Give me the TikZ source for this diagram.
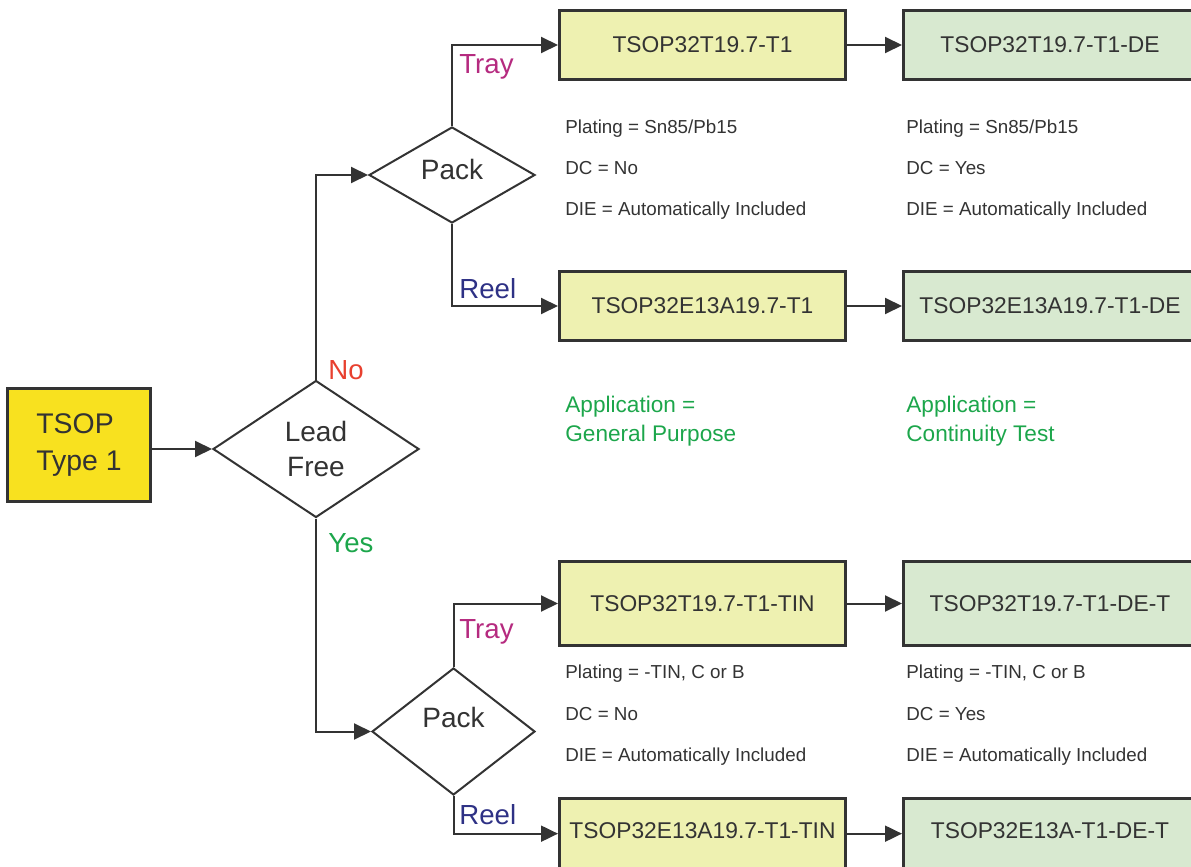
\documentclass[tikz,border=0pt]{standalone}
\usepackage{fontspec}
\setmainfont{Liberation Sans}
\usepackage{xcolor}
\usetikzlibrary{shapes.geometric,arrows.meta}
\definecolor{LineGray}{HTML}{333333}
\definecolor{TSOPYellow}{HTML}{F8E11F}
\definecolor{PartYellow}{HTML}{EEF1B1}
\definecolor{DEGreen}{HTML}{D8E9D0}
\definecolor{NoRed}{HTML}{E8402F}
\definecolor{YesGreen}{HTML}{1CA64B}
\definecolor{TrayMagenta}{HTML}{B52A7F}
\definecolor{ReelBlue}{HTML}{2E3185}

\tikzset{
	partbox/.style={draw=LineGray, line width=1.5pt, fill=PartYellow, minimum width=143pt, minimum height=34.5pt, text=LineGray, font=\fontsize{11.4}{14}\selectfont},
	debox/.style={partbox, fill=DEGreen, minimum width=146.5pt},
	decision/.style={diamond, draw=LineGray, line width=1pt, inner sep=0pt, align=center, text=LineGray, font=\fontsize{14}{17.5}\selectfont},
	flow/.style={draw=LineGray, line width=1pt, -{Triangle[length=8.5pt,width=8pt]}},
	branchlabel/.style={anchor=west, inner sep=0pt, font=\fontsize{13.8}{16}\selectfont},
	infotext/.style={anchor=west, inner sep=0pt, text=LineGray, font=\fontsize{9.4}{11}\selectfont},
	apptext/.style={anchor=west, inner sep=0pt, align=left, text=YesGreen, font=\fontsize{11.3}{14.5}\selectfont}
}

\begin{document}
\begin{tikzpicture}[x=0.5pt, y=-0.5pt]
	\useasboundingbox (0,0) rectangle (1191,867);

	% start and decisions
	\node[draw=LineGray, line width=1.5pt, fill=TSOPYellow, minimum width=71.5pt, minimum height=56.5pt, align=left, text=LineGray, font=\fontsize{14.2}{18.5}\selectfont] (start) at (79,445) {TSOP\\Type 1};
	\node[decision, minimum width=103pt, minimum height=68.5pt] (leadfree) at (316,449) {Lead\\Free};
	\node[decision, minimum width=83pt, minimum height=48pt, text depth=6pt] (packno) at (452,175) {Pack};
	\node[decision, minimum width=81.5pt, minimum height=63.5pt, text depth=14.5pt] (packyes) at (453.5,731.5) {Pack};

	% part numbers
	\node[partbox] (tray1) at (702.5,45) {TSOP32T19.7-T1};
	\node[debox] (de1) at (1050,45) {TSOP32T19.7-T1-DE};
	\node[partbox] (reel1) at (702.5,306) {TSOP32E13A19.7-T1};
	\node[debox] (de2) at (1050,306) {TSOP32E13A19.7-T1-DE};
	\node[partbox, minimum height=42pt] (tray2) at (702.5,603.5) {TSOP32T19.7-T1-TIN};
	\node[debox, minimum height=42pt] (de3) at (1050,603.5) {TSOP32T19.7-T1-DE-T};
	\node[partbox, minimum height=41.5pt, text depth=9pt] (reel2) at (702.5,840) {TSOP32E13A19.7-T1-TIN};
	\node[debox, minimum height=41.5pt, text depth=9pt] (de4) at (1050,840) {TSOP32E13A-T1-DE-T};

	% connectors
	\draw[flow] (start.east |- leadfree) -- (leadfree.west);
	\draw[flow] (leadfree.north) |- (packno.west);
	\draw[flow] (leadfree.south) |- (packyes.west);
	\draw[flow] (packno.north) |- (tray1.west);
	\draw[flow] (packno.south) |- (reel1.west);
	\draw[flow] (packyes.north) |- (tray2.west);
	\draw[flow] (packyes.south) |- (reel2.mid west);
	\draw[flow] (tray1) -- (de1);
	\draw[flow] (reel1) -- (de2);
	\draw[flow] (tray2) -- (de3);
	\draw[flow] (reel2.mid east) -- (de4.mid west);

	% branch labels
	\node[branchlabel, text=NoRed] (nolabel) at (328,370) {No};
	\node[branchlabel, text=YesGreen] (yeslabel) at (328,543) {Yes};
	\node[branchlabel, text=TrayMagenta] (traylabel1) at (459,67) {Tray};
	\node[branchlabel, text=ReelBlue] (reellabel1) at (459,289) {Reel};
	\node[branchlabel, text=TrayMagenta] (traylabel2) at (459,632) {Tray};
	\node[branchlabel, text=ReelBlue] (reellabel2) at (459,815) {Reel};

	% plating notes
	\foreach \cx/\dcval [count=\i] in {565/No, 906/Yes} {
		\node[infotext] (platea\i) at (\cx,129) {Plating = Sn85/Pb15};
		\node[infotext] (dca\i) at (\cx,168) {DC = \dcval};
		\node[infotext] (diea\i) at (\cx,211) {DIE = Automatically Included};
		\node[infotext] (plateb\i) at (\cx,674) {Plating = -TIN, C or B};
		\node[infotext] (dcb\i) at (\cx,714) {DC = \dcval};
		\node[infotext] (dieb\i) at (\cx,757) {DIE = Automatically Included};
	}

	\node[apptext] (appgen) at (565,421) {Application =\\General Purpose};
	\node[apptext] (appcont) at (906,421) {Application =\\Continuity Test};

\end{tikzpicture}
\end{document}
